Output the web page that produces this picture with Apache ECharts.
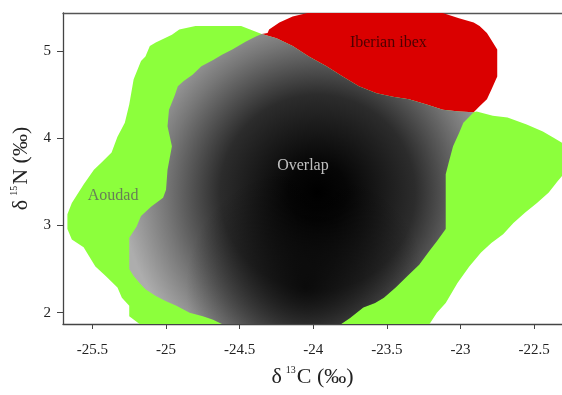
<!DOCTYPE html>
<html>
<head>
<meta charset="utf-8">
<script src="https://cdn.jsdelivr.net/npm/echarts@6/dist/echarts.min.js"></script>
<style>
html, body { margin: 0; padding: 0; background: #fff; }
#main { width: 562px; height: 395px; }
</style>
</head>
<body>
<div id="main"></div>
<script>
// tick positions
var xTicks = [-25.5, -25, -24.5, -24, -23.5, -23, -22.5];
var yTicks = [2, 3, 4, 5];

// boundary shared by the overlap and the ibex-only area (left -> right)
var sharedEdge = [[-24.35, 5.20], [-24.25, 5.15], [-24.14, 5.06], [-24.03, 4.94], [-23.91, 4.83],
	[-23.80, 4.71], [-23.69, 4.60], [-23.57, 4.52], [-23.46, 4.48], [-23.35, 4.45], [-23.23, 4.39],
	[-23.12, 4.33], [-23.01, 4.31], [-22.91, 4.30]];

// aoudad outline, from the right end of the shared edge round to its left end
var aoudadRest = [[-22.89, 4.31], [-22.78, 4.26], [-22.68, 4.24], [-22.55, 4.16], [-22.44, 4.08],
	[-22.37, 4.01], [-22.31, 3.95], [-22.31, 3.57], [-22.34, 3.51], [-22.40, 3.38], [-22.48, 3.26],
	[-22.56, 3.15], [-22.64, 3.03], [-22.71, 2.90], [-22.79, 2.80], [-22.86, 2.69], [-22.94, 2.53],
	[-23.02, 2.34], [-23.10, 2.11], [-23.16, 2.00], [-23.21, 1.87], [-25.18, 1.87], [-25.25, 1.96],
	[-25.25, 2.08], [-25.30, 2.17], [-25.33, 2.29], [-25.41, 2.42], [-25.48, 2.53], [-25.56, 2.75],
	[-25.64, 2.84], [-25.67, 2.96], [-25.67, 3.13], [-25.64, 3.26], [-25.56, 3.47], [-25.49, 3.64],
	[-25.44, 3.72], [-25.37, 3.84], [-25.33, 4.02], [-25.28, 4.18], [-25.25, 4.39], [-25.22, 4.68],
	[-25.17, 4.89], [-25.14, 4.94], [-25.11, 5.06], [-25.07, 5.10], [-24.96, 5.19], [-24.91, 5.25],
	[-24.80, 5.29], [-24.49, 5.29]];

// ibex outline, from the right end of the shared edge over the top to its left end
var ibexRest = [[-22.87, 4.37], [-22.82, 4.45], [-22.79, 4.56], [-22.75, 4.71], [-22.75, 5.02],
	[-22.79, 5.13], [-22.82, 5.21], [-22.87, 5.29], [-22.91, 5.33], [-23.01, 5.38], [-23.12, 5.44],
	[-24.04, 5.44], [-24.14, 5.40], [-24.23, 5.33], [-24.30, 5.25], [-24.31, 5.21]];

// overlap outline, from the right end of the shared edge down, across, and up the left side
var overlapRest = [[-22.98, 4.18], [-23.01, 4.06], [-23.05, 3.91], [-23.08, 3.72], [-23.10, 3.59],
	[-23.10, 2.96], [-23.16, 2.82], [-23.21, 2.71], [-23.28, 2.55], [-23.36, 2.42], [-23.44, 2.29],
	[-23.52, 2.17], [-23.58, 2.11], [-23.66, 2.06], [-23.75, 1.94], [-23.81, 1.87], [-24.62, 1.87],
	[-24.68, 1.92], [-24.75, 1.96], [-24.84, 2.00], [-24.93, 2.08], [-25.00, 2.13], [-25.07, 2.19],
	[-25.14, 2.27], [-25.18, 2.34], [-25.22, 2.42], [-25.25, 2.50], [-25.25, 2.86], [-25.20, 2.99],
	[-25.17, 3.11], [-25.10, 3.22], [-25.02, 3.32], [-25.00, 3.41], [-24.99, 3.64], [-24.96, 3.91],
	[-24.99, 4.14], [-24.98, 4.33], [-24.94, 4.50], [-24.92, 4.60], [-24.88, 4.66], [-24.82, 4.73],
	[-24.76, 4.83], [-24.68, 4.90], [-24.62, 4.96], [-24.55, 5.02], [-24.46, 5.11], [-24.39, 5.17]];

// densest points of the overlap
var coreCentre = [-23.97, 3.38];
var lowCentre = [-24.05, 2.3];

var labelNames = ['Iberian ibex', 'Overlap', 'Aoudad'];
var labelPos = [[-23.49, 5.10], [-24.07, 3.69], [-25.36, 3.34]];
var labelColors = ['#2b0000', '#ececec', '#5e5e5e'];

var aoudadPoly = sharedEdge.concat(aoudadRest);
var ibexPoly = sharedEdge.concat(ibexRest);
var overlapPoly = sharedEdge.concat(overlapRest);

var serif = 'Liberation Serif, Times New Roman, serif';

function polygonSeries(name, pts, fill, z) {
	return {
		type: 'custom',
		name: name,
		data: pts,
		z: z,
		silent: true,
		clip: true,
		renderItem: function (params, api) {
			if (params.dataIndex !== 0) return;
			var points = pts.map(function (p) { return api.coord(p); });
			return {
				type: 'polygon',
				shape: { points: points },
				style: { fill: typeof fill === 'function' ? fill(api) : fill }
			};
		}
	};
}

var nameRich = {
	n: { fontFamily: serif, fontSize: 22, color: '#222', lineHeight: 25 },
	s: { fontFamily: serif, fontSize: 10, color: '#222', verticalAlign: 'top', lineHeight: 12, padding: [0, 1, 0, 4] }
};

var chart = echarts.init(document.getElementById('main'));

var option = {
	animation: false,
	grid: { left: 63, top: 13, right: 0, bottom: 71 },
	xAxis: [{
		type: 'value',
		min: -25.70,
		max: -22.31,
		name: '{n|δ}{s|13}{n|C (‰)}',
		nameLocation: 'middle',
		nameGap: 41,
		nameTextStyle: { rich: nameRich },
		axisLine: { lineStyle: { color: '#444', width: 1.3 } },
		axisTick: { length: 5, lineStyle: { color: '#444' }, customValues: xTicks },
		axisLabel: { fontFamily: serif, fontSize: 15, color: '#222', margin: 19, customValues: xTicks },
		splitLine: { show: false }
	}, {
		type: 'value',
		position: 'top',
		min: -25.70,
		max: -22.31,
		axisLine: { show: true, lineStyle: { color: '#555', width: 1.3 } },
		axisTick: { show: false },
		axisLabel: { show: false },
		splitLine: { show: false }
	}],
	yAxis: {
		type: 'value',
		min: 1.87,
		max: 5.44,
		name: '{n|δ}{s|15}{n|N (‰)}',
		nameLocation: 'middle',
		nameRotate: 90,
		nameGap: 27,
		nameTextStyle: { rich: nameRich },
		axisLine: { show: true, lineStyle: { color: '#444', width: 1.3 } },
		axisTick: { show: true, length: 6, lineStyle: { color: '#444' }, customValues: yTicks },
		axisLabel: { fontFamily: serif, fontSize: 15, color: '#222', margin: 12, customValues: yTicks },
		splitLine: { show: false }
	},
	series: [
		polygonSeries('Aoudad', aoudadPoly, '#8cff3c', 1),
		polygonSeries('Iberian ibex', ibexPoly, '#da0000', 2),
		polygonSeries('Overlap', overlapPoly, function (api) {
			var c = api.coord(coreCentre);
			return new echarts.graphic.RadialGradient(c[0], c[1], 195, [
				{ offset: 0, color: '#000' },
				{ offset: 0.15, color: '#060606' },
				{ offset: 0.5, color: '#2c2c2c' },
				{ offset: 0.78, color: '#777' },
				{ offset: 1, color: '#adadad' }
			], true);
		}, 3),
		polygonSeries('Overlap shade', overlapPoly, function (api) {
			var c = api.coord(lowCentre);
			return new echarts.graphic.RadialGradient(c[0], c[1], 120, [
				{ offset: 0, color: 'rgba(0,0,0,0.75)' },
				{ offset: 1, color: 'rgba(0,0,0,0)' }
			], true);
		}, 4),
		{
			type: 'scatter',
			z: 10,
			silent: true,
			symbolSize: 0,
			data: labelNames.map(function (n, i) {
				return { name: n, value: labelPos[i], label: { color: labelColors[i] } };
			}),
			label: {
				show: true,
				position: 'inside',
				formatter: '{b}',
				fontFamily: serif,
				fontSize: 16
			}
		}
	]
};

chart.setOption(option);
</script>
</body>
</html>
